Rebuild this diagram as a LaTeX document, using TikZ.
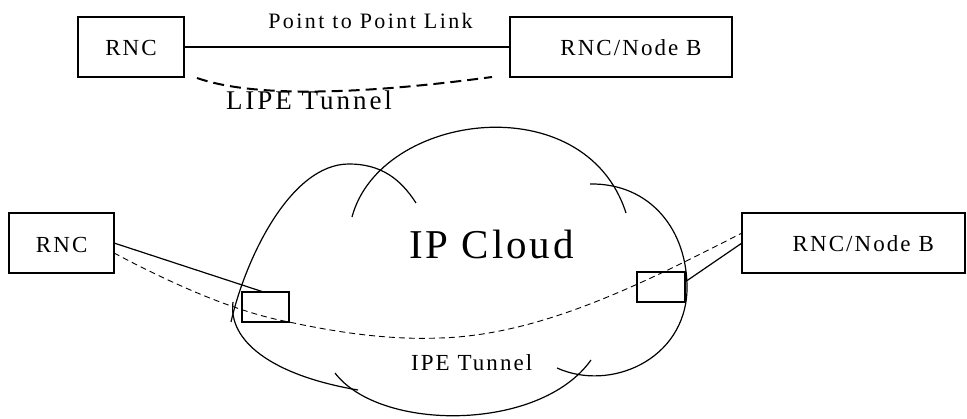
\documentclass[tikz,border=0pt]{standalone}
\usepackage{fontspec}
\setmainfont{Liberation Serif}[LetterSpace=9]
\begin{document}
\begin{tikzpicture}[x=1pt,y=-1pt,
  box/.style={draw, line width=1.3pt, inner sep=0pt, outer sep=0pt, anchor=north west},
  lbl/.style={anchor=base, inner sep=0pt, font=\fontsize{23}{27}\selectfont},
  link/.style={line width=1.2pt},
  cl/.style={line width=1.2pt},
  ltun/.style={line width=2pt, dash pattern=on 11pt off 6pt},
  tun/.style={line width=0.9pt, dash pattern=on 6pt off 4pt}]
\useasboundingbox (0,0) rectangle (967,419);
% top row
\node[box, minimum width=106pt, minimum height=60pt] (rncT) at (78,17) {};
\node[box, minimum width=222pt, minimum height=60pt] (nbT) at (510,17) {};
\node[lbl] (trnc) at (131,56) {RNC};
\node[lbl] (tnb) at (631,56) {RNC/Node B};
\node[lbl, font=\fontsize{22}{26}\selectfont\addfontfeature{LetterSpace=11}] (ptp) at (370.5,28.6) {Point to Point Link};
\draw[link] (rncT.east) -- (nbT.west);
\coordinate (lt1) at (197,78);
\coordinate (lt2) at (492,77);
\draw[ltun] (lt1) .. controls (260,100) and (380,92) .. (lt2);
\node[lbl, font=\fontsize{27}{31}\selectfont\addfontfeature{LetterSpace=11}] (lipe) at (309,110) {LIPE Tunnel};
% cloud
\draw[cl] (416,203) .. controls (400,178) and (380,164) .. (349,164)
               .. controls (290,164) and (245,260) .. (231,322);
\draw[cl] (233,302) .. controls (228,340) and (270,375) .. (358,390);
\draw[cl] (335,373) .. controls (380,432) and (540,432) .. (591,360);
\draw[cl] (557,368) .. controls (610,392) and (685,360) .. (687,290)
               .. controls (688,230) and (650,183) .. (590,184);
\draw[cl] (352,217) .. controls (380,112) and (585,85) .. (626,213);
\node[lbl, font=\fontsize{41}{46}\selectfont\addfontfeature{LetterSpace=7}] (ipc) at (491.5,258.3) {IP Cloud};
\node[lbl] (ipe) at (471.7,370.5) {IPE Tunnel};
% bottom row
\node[box, minimum width=105pt, minimum height=60pt] (rncB) at (9,213) {};
\node[box, minimum width=223pt, minimum height=60pt] (nbB) at (742,213) {};
\node[lbl] (brnc) at (61.7,252.7) {RNC};
\node[lbl] (bnb) at (863.3,251.7) {RNC/Node B};
\node[box, line width=1.2pt, minimum width=47pt, minimum height=30pt] (smL) at (242,292) {};
\node[box, line width=1.2pt, minimum width=48pt, minimum height=30pt] (smR) at (637,272) {};
\draw[link] (rncB.east) -- ([xshift=-2pt]smL.north);
\draw[link] ([yshift=5pt]smR.east) -- (nbB.west);
\draw[tun] ([yshift=-10pt]rncB.east) .. controls (180,288) and (240,313) .. (smL.south east)
   .. controls (340,333) and (390,340) .. (440,338)
   .. controls (540,335) and (640,285) .. ([yshift=10pt]nbB.west);
\end{tikzpicture}
\end{document}
